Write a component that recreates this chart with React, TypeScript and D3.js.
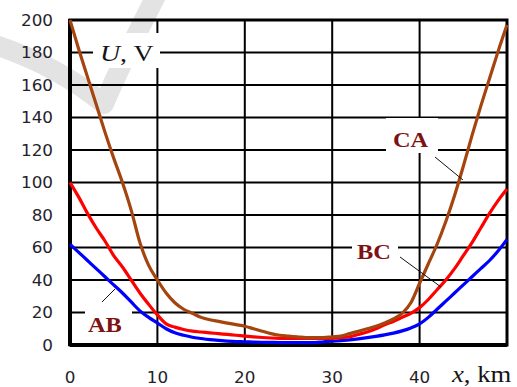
import React from "react";
import * as d3 from "d3";

// Distance along the line, km
const xs: number[] = d3.range(0, 51);

// Voltage profiles, V (one value per km)
const uCA: number[] = [
  200, 182, 165, 148, 131, 115, 100, 83, 63, 49, 40, 32, 26, 22, 19.5, 17, 15.5, 14.5, 13.5, 12.5,
  11.5, 10, 8.5, 7, 6, 5.5, 5, 4.5, 4.5, 4.5, 5, 5.5, 7, 8.5, 10, 11.5, 13.5, 16, 19.5, 26,
  38, 50, 62, 76, 92, 110, 129, 147, 164, 181, 197,
];
const uBC: number[] = [
  100, 91, 81, 72, 64, 55, 48, 40, 32, 25, 18.5, 13, 11, 9.5, 8.5, 8, 7.5, 7, 6.5, 6,
  5.5, 5, 4.6, 4.3, 4.1, 4, 4, 4, 4, 4, 4, 4.5, 5, 6.5, 8, 10, 12.5, 14.5, 17, 19.5,
  23, 28, 34, 40, 47, 55, 63, 72, 81, 89, 96,
];
const uAB: number[] = [
  62, 57, 52, 47, 42, 37, 32, 26.5, 21, 17, 13.5, 10, 7.5, 6, 4.8, 4, 3.3, 2.8, 2.4, 2.1,
  2, 1.8, 1.7, 1.6, 1.5, 1.5, 1.5, 1.5, 1.5, 2, 2.3, 2.7, 3.2, 3.8, 4.5, 5.3, 6.2, 7.3, 8.7, 10.5,
  13, 17, 22, 27, 32, 37, 42, 47, 52, 58, 65,
];

const xTicks: number[] = [0, 10, 20, 30, 40];
const yTicks: number[] = [0, 20, 40, 60, 80, 100, 120, 140, 160, 180, 200];
const xGrid: number[] = [10, 20, 30, 40];
const yGrid: number[] = [20, 40, 60, 80, 100, 120, 140, 160, 180];

const W = 517;
const H = 387;
const x = d3.scaleLinear().domain([0, 50]).range([70, 507]);
const y = d3.scaleLinear().domain([0, 200]).range([345, 20]);

const series = [
  { name: "AB", values: uAB, color: "#0000ff" },
  { name: "BC", values: uBC, color: "#ff0000" },
  { name: "CA", values: uCA, color: "#a4440e" },
];

const serif = "'Liberation Serif', 'Times New Roman', serif";
const sans = "'DejaVu Sans', Verdana, sans-serif";
const labelColor = "#7d1212";

function Txt(props: {
  x: number;
  y: number;
  anchor?: "start" | "middle" | "end";
  size: number;
  family: string;
  weight?: string;
  fill?: string;
  sx?: number;
  children: React.ReactNode;
}) {
  const {
    x: tx,
    y: ty,
    anchor = "start",
    size,
    family,
    weight = "normal",
    fill = "#1e1a18",
    sx = 1.16,
    children,
  } = props;
  return (
    <text
      transform={`translate(${tx},${ty}) scale(${sx},1)`}
      textAnchor={anchor}
      fontSize={size}
      fontFamily={family}
      fontWeight={weight}
      fill={fill}
    >
      {children}
    </text>
  );
}

export default function App() {
  const line = d3
    .line<number>()
    .x((_, i) => x(xs[i]))
    .y((d) => y(d))
    .curve(d3.curveMonotoneX);

  return (
    <svg
      width={W}
      height={H}
      viewBox={`0 0 ${W} ${H}`}
      style={{ position: "absolute", left: 0, top: 0, background: "#fff" }}
    >
      {/* faint check-mark backdrop */}
      <path
        d="M-8,44 Q55,64 104,104 Q118,70 158,-8"
        fill="none"
        stroke="#e3e3e3"
        strokeWidth={20}
        strokeLinejoin="round"
      />

      {/* grid */}
      <g stroke="#000" strokeWidth={2}>
        {xGrid.map((v) => (
          <line key={"gx" + v} x1={x(v)} x2={x(v)} y1={y(200)} y2={y(0)} />
        ))}
        {yGrid.map((v) => (
          <line key={"gy" + v} x1={x(0)} x2={x(50)} y1={y(v)} y2={y(v)} />
        ))}
      </g>

      {/* white boxes behind labels */}
      <g fill="#fff">
        <rect x={93} y={33} width={67} height={35} />
        <rect x={386} y={118} width={52} height={35} />
        <rect x={352} y={234} width={46} height={30} />
        <rect x={85} y={300} width={47} height={38} />
      </g>

      {/* frame */}
      <rect
        x={x(0)}
        y={y(200)}
        width={x(50) - x(0)}
        height={y(0) - y(200)}
        fill="none"
        stroke="#000"
        strokeWidth={3}
      />
      <line x1={x(0)} x2={x(0)} y1={y(200) - 1} y2={y(0) + 1} stroke="#000" strokeWidth={4} />
      <line x1={x(0)} x2={x(50)} y1={y(0)} y2={y(0)} stroke="#000" strokeWidth={4} />

      {/* curves */}
      {series.map((s) => (
        <path
          key={s.name}
          d={line(s.values) || ""}
          fill="none"
          stroke={s.color}
          strokeWidth={3.2}
          strokeLinejoin="round"
        />
      ))}

      {/* leader lines */}
      <g stroke="#111" strokeWidth={1}>
        <line x1={435} y1={157} x2={463} y2={180} />
        <line x1={400} y1={257} x2={441} y2={287} />
        <line x1={102} y1={302} x2={115} y2={289} />
      </g>

      {/* y tick labels */}
      {yTicks.map((v) => (
        <Txt key={"yt" + v} x={53} y={y(v) + 5.5} anchor="end" size={15} family={sans} sx={1.12} fill="#261e2a">
          {v}
        </Txt>
      ))}

      {/* x tick labels */}
      {xTicks.map((v) => (
        <Txt key={"xt" + v} x={x(v)} y={383} anchor="middle" size={15} family={sans} sx={1.12} fill="#261e2a">
          {v}
        </Txt>
      ))}

      {/* axis titles */}
      <Txt x={100} y={61} size={24} family={serif} fill="#151515">
        <tspan fontStyle="italic">U</tspan>, V
      </Txt>
      <Txt x={452} y={382} size={23} family={serif} fill="#151515">
        <tspan fontStyle="italic">x</tspan>, km
      </Txt>

      {/* series labels */}
      <Txt x={393} y={147} size={21} family={serif} weight="bold" fill={labelColor}>
        CA
      </Txt>
      <Txt x={357} y={259} size={21} family={serif} weight="bold" fill={labelColor}>
        BC
      </Txt>
      <Txt x={88} y={332} size={21} family={serif} weight="bold" fill={labelColor}>
        AB
      </Txt>
    </svg>
  );
}
